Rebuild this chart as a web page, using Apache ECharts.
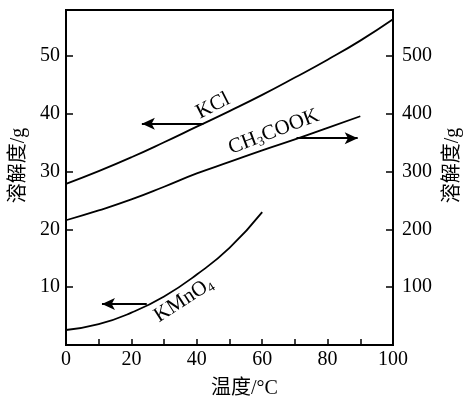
<!DOCTYPE html>
<html><head><meta charset="utf-8">
<script src="https://cdn.jsdelivr.net/npm/echarts@6/dist/echarts.min.js"></script>
<style>html,body{margin:0;padding:0;background:#fff}#c{width:463px;height:397px}</style>
</head><body><div id="c"></div>
<script>
const temps = [0, 10, 20, 30, 40, 50, 60, 70, 80, 90, 100];
const kcl = [27.9, 30.1, 32.5, 35.1, 37.8, 40.5, 43.3, 46.3, 49.4, 52.7, 56.4];
const tempsAc = [0, 10, 20, 30, 40, 50, 60, 70, 80, 90];
const ch3cook = [216, 233, 252, 274, 297, 317, 337, 356, 376, 396];
const tempsMn = [0, 10, 20, 30, 40, 50, 60];
const kmno4 = [2.6, 3.6, 5.6, 8.4, 12.2, 16.8, 23.0];
const leftTicks = [10, 20, 30, 40, 50];
const rightTicks = [100, 200, 300, 400, 500];
const xTickLabels = [0, 20, 40, 60, 80, 100];

const FONT = '"Liberation Serif", "Times New Roman", "Noto Sans CJK SC", serif';
const zip = (xs, ys) => xs.map((x, i) => [x, ys[i]]);

const chart = echarts.init(document.getElementById('c'), null, {renderer: 'canvas'});
const axisLine = {show: true, lineStyle: {color: '#000', width: 2}};
const arrowML = (from, to) => ({
  silent: true, symbol: ['none', 'arrow'], symbolSize: [9, 13], animation: false,
  label: {show: false},
  lineStyle: {color: '#000', width: 2, type: 'solid'},
  data: [[{coord: from}, {coord: to}]]
});
const textMP = (coord, text, rot, size) => ({
  silent: true, animation: false, symbol: 'circle', symbolSize: 0,
  data: [{coord: coord, value: 0}],
  label: {show: true, position: 'inside', rotate: rot, formatter: text,
    color: '#000', fontFamily: FONT, fontSize: size,
    rich: {sub: {fontFamily: FONT, fontSize: 13, color: '#000', padding: [10, 0, 0, 0]}}}
});

chart.setOption({
  animation: false,
  backgroundColor: '#fff',
  grid: {left: 66, right: 70, top: 10, bottom: 52, containLabel: false, outerBoundsMode: 'none',
    show: true, borderColor: '#000', borderWidth: 2},
  xAxis: {
    type: 'value', min: 0, max: 100, interval: 10,
    name: '温度/°C', nameLocation: 'middle', nameGap: 34,
    nameTextStyle: {fontFamily: FONT, fontSize: 20, color: '#000', padding: [0, 0, 0, 30]},
    axisLine: axisLine,
    axisTick: {show: true, inside: true, length: 6, lineStyle: {color: '#000', width: 1.5}},
    axisLabel: {color: '#000', fontFamily: FONT, fontSize: 20, margin: 5,
      formatter: v => xTickLabels.includes(v) ? String(v) : ''},
    splitLine: {show: false}
  },
  yAxis: [{
    type: 'value', min: 0, max: 58, interval: 10, position: 'left',
    name: '溶解度/g', nameLocation: 'middle', nameRotate: 90, nameGap: 31,
    nameTextStyle: {fontFamily: FONT, fontSize: 20, color: '#000', padding: [0, 0, 0, 24]},
    axisLine: axisLine,
    axisTick: {show: true, inside: true, length: 7, lineStyle: {color: '#000', width: 1.5}},
    axisLabel: {color: '#000', fontFamily: FONT, fontSize: 20, margin: 6,
      formatter: v => leftTicks.includes(v) ? String(v) : ''},
    splitLine: {show: false}
  }, {
    type: 'value', min: 0, max: 580, interval: 100, position: 'right',
    name: '溶解度/g', nameLocation: 'middle', nameRotate: 90, nameGap: 48,
    nameTextStyle: {fontFamily: FONT, fontSize: 20, color: '#000', padding: [0, 0, 0, 24]},
    axisLine: axisLine,
    axisTick: {show: true, inside: true, length: 7, lineStyle: {color: '#000', width: 1.5}},
    axisLabel: {color: '#000', fontFamily: FONT, fontSize: 20, margin: 9,
      formatter: v => rightTicks.includes(v) ? String(v) : ''},
    splitLine: {show: false}
  }],
  series: [{
    name: 'KCl', type: 'line', smooth: true, showSymbol: false, yAxisIndex: 0,
    data: zip(temps, kcl), lineStyle: {color: '#000', width: 1.8},
    markLine: arrowML([42, 38.3], [23.2, 38.3]),
    markPoint: textMP([45, 41.4], 'KCl', 27, 21)
  }, {
    name: 'CH3COOK', type: 'line', smooth: true, showSymbol: false, yAxisIndex: 1,
    data: zip(tempsAc, ch3cook), lineStyle: {color: '#000', width: 1.8},
    markLine: arrowML([70.5, 358], [89.2, 358]),
    markPoint: textMP([63.5, 369], 'CH{sub|3}COOK', 21, 21)
  }, {
    name: 'KMnO4', type: 'line', smooth: true, showSymbol: false, yAxisIndex: 0,
    data: zip(tempsMn, kmno4), lineStyle: {color: '#000', width: 1.8},
    markLine: arrowML([24.7, 7.1], [11, 7.1]),
    markPoint: textMP([36, 7.8], 'KMnO{sub|4}', 33, 21)
  }]
});
</script></body></html>
